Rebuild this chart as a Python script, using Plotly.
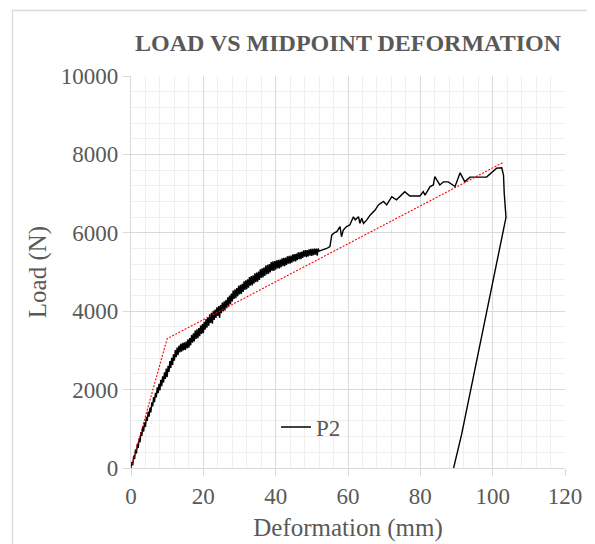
import plotly.graph_objects as go

# ---- data ----
# dense, noisy loading branch 0 - 52 mm (0.25 mm spacing)
deformation_dense = [
    0.0, 0.25, 0.5, 0.75, 1.0, 1.25, 1.5, 1.75, 2.0, 2.25, 2.5, 2.75, 3.0, 3.25, 3.5, 3.75,
    4.0, 4.25, 4.5, 4.75, 5.0, 5.25, 5.5, 5.75, 6.0, 6.25, 6.5, 6.75, 7.0, 7.25, 7.5, 7.75,
    8.0, 8.25, 8.5, 8.75, 9.0, 9.25, 9.5, 9.75, 10.0, 10.25, 10.5, 10.75, 11.0, 11.25, 11.5, 11.75,
    12.0, 12.25, 12.5, 12.75, 13.0, 13.25, 13.5, 13.75, 14.0, 14.25, 14.5, 14.75, 15.0, 15.25, 15.5, 15.75,
    16.0, 16.25, 16.5, 16.75, 17.0, 17.25, 17.5, 17.75, 18.0, 18.25, 18.5, 18.75, 19.0, 19.25, 19.5, 19.75,
    20.0, 20.25, 20.5, 20.75, 21.0, 21.25, 21.5, 21.75, 22.0, 22.25, 22.5, 22.75, 23.0, 23.25, 23.5, 23.75,
    24.0, 24.25, 24.5, 24.75, 25.0, 25.25, 25.5, 25.75, 26.0, 26.25, 26.5, 26.75, 27.0, 27.25, 27.5, 27.75,
    28.0, 28.25, 28.5, 28.75, 29.0, 29.25, 29.5, 29.75, 30.0, 30.25, 30.5, 30.75, 31.0, 31.25, 31.5, 31.75,
    32.0, 32.25, 32.5, 32.75, 33.0, 33.25, 33.5, 33.75, 34.0, 34.25, 34.5, 34.75, 35.0, 35.25, 35.5, 35.75,
    36.0, 36.25, 36.5, 36.75, 37.0, 37.25, 37.5, 37.75, 38.0, 38.25, 38.5, 38.75, 39.0, 39.25, 39.5, 39.75,
    40.0, 40.25, 40.5, 40.75, 41.0, 41.25, 41.5, 41.75, 42.0, 42.25, 42.5, 42.75, 43.0, 43.25, 43.5, 43.75,
    44.0, 44.25, 44.5, 44.75, 45.0, 45.25, 45.5, 45.75, 46.0, 46.25, 46.5, 46.75, 47.0, 47.25, 47.5, 47.75,
    48.0, 48.25, 48.5, 48.75, 49.0, 49.25, 49.5, 49.75, 50.0, 50.25, 50.5, 50.75, 51.0, 51.25, 51.5, 51.75,
    52.0,
]
load_dense = [
    0, 155, 70, 315, 230, 475, 370, 615, 510, 760, 660, 920, 820, 1060, 930, 1165,
    1050, 1305, 1200, 1440, 1310, 1540, 1420, 1675, 1570, 1810, 1680, 1915, 1800, 2060, 1910, 2150,
    1980, 2250, 2090, 2340, 2180, 2440, 2270, 2535, 2320, 2605, 2450, 2725, 2550, 2810, 2630, 2900,
    2740, 3010, 2830, 3075, 2880, 3120, 2950, 3165, 2970, 3190, 3000, 3205, 3010, 3225, 3050, 3280,
    3070, 3315, 3130, 3390, 3200, 3435, 3230, 3505, 3290, 3540, 3310, 3570, 3360, 3635, 3420, 3675,
    3440, 3730, 3530, 3800, 3580, 3845, 3630, 3920, 3700, 3960, 3680, 4010, 3780, 4040, 3830, 4100,
    3880, 4130, 3830, 4160, 3950, 4220, 4000, 4250, 4020, 4285, 4080, 4355, 4140, 4400, 4180, 4450,
    4250, 4525, 4310, 4560, 4330, 4590, 4380, 4650, 4430, 4675, 4440, 4700, 4490, 4760, 4540, 4790,
    4560, 4815, 4600, 4870, 4650, 4895, 4660, 4915, 4700, 4965, 4740, 4985, 4750, 5010, 4800, 5070,
    4850, 5095, 4860, 5115, 4900, 5165, 4940, 5185, 4950, 5205, 4990, 5255, 5030, 5270, 5030, 5280,
    5060, 5300, 5090, 5310, 5090, 5320, 5120, 5350, 5150, 5360, 5150, 5370, 5180, 5400, 5210, 5410,
    5210, 5420, 5240, 5450, 5270, 5460, 5270, 5470, 5300, 5500, 5330, 5510, 5330, 5520, 5360, 5550,
    5390, 5560, 5380, 5560, 5400, 5580, 5420, 5590, 5410, 5590, 5430, 5600, 5440, 5600, 5420, 5600,
    5530,
]
# smoother loading branch, peak and unloading branch
deformation_tail = [
    53.0, 54.1, 55.0, 55.5, 56.2, 56.9, 57.8, 58.2, 58.7, 59.6, 60.5, 61.5, 62.0,
    62.9, 63.3, 63.8, 64.3, 65.2, 66.1, 67.5, 68.4, 69.8, 70.7, 72.1, 73.4, 75.7,
    77.1, 79.9, 80.8, 81.3, 82.7, 83.6, 84.0, 85.4, 86.4, 87.7, 89.6, 91.0, 92.3,
    93.7, 98.3, 101.1, 102.5, 103.0, 103.2, 103.4, 103.6, 103.7, 103.6, 103.7,
    91.4, 89.2,
]
load_tail = [
    5560, 5600, 5650, 5940, 6000, 6030, 6160, 5900, 6070, 6160, 6200, 6410, 6330,
    6410, 6240, 6370, 6240, 6330, 6450, 6580, 6710, 6800, 6710, 6920, 6840, 7050,
    6940, 6940, 7050, 6960, 7180, 7220, 7430, 7220, 7300, 7300, 7180, 7530, 7300,
    7420, 7420, 7650, 7660, 7470, 7000, 6700, 6450, 6380, 6550, 6400,
    850, 0,
]

trend_x = [0, 10, 103]
trend_y = [0, 3300, 7800]

x_ticks = [0, 20, 40, 60, 80, 100, 120]
y_ticks = [0, 2000, 4000, 6000, 8000, 10000]
y_tick_text = ["0", "2000", "4000", "6000", "8000", "10000"]

deformation_mm = deformation_dense + deformation_tail
load_n = load_dense + load_tail

# ---- figure ----
W, H = 595, 544
OFF = 8  # the page body adds an 8 px offset; positions below are screen pixels
PLOT_L, PLOT_R, PLOT_T, PLOT_B = 131, 565, 76, 468
ML = PLOT_L - OFF
MT = PLOT_T - OFF
PW, PH = PLOT_R - PLOT_L, PLOT_B - PLOT_T
MR = W - ML - PW
MB = H - MT - PH

FONT = "Liberation Serif, Times New Roman, serif"
TXT = "#595959"
MAJ = "#d9d9d9"
MIN = "#efefef"

fig = go.Figure()
fig.add_trace(go.Scatter(
    x=deformation_mm, y=load_n, mode="lines", name="P2",
    line=dict(color="black", width=1.4), showlegend=True,
))
fig.add_trace(go.Scatter(
    x=trend_x, y=trend_y, mode="lines", name="Trend",
    line=dict(color="#ff0000", width=1.1, dash="2px,1.5px"), showlegend=False,
))


def px_to_paper_x(px):
    return (px - PLOT_L) / PW


def px_to_paper_y(py):
    return (PLOT_B - py) / PH


# outer chart border (left and top visible, rest cropped)
fig.add_shape(
    type="rect", xref="paper", yref="paper",
    x0=px_to_paper_x(12.5), x1=px_to_paper_x(640),
    y0=px_to_paper_y(600), y1=px_to_paper_y(10.5),
    line=dict(color=MAJ, width=1.3), fillcolor="rgba(0,0,0,0)", layer="above",
)

axis_common = dict(
    showline=True, linecolor=MAJ, linewidth=1.3,
    showgrid=True, gridcolor=MAJ, gridwidth=1.3,
    ticks="outside", ticklen=7, tickcolor=MAJ, tickwidth=1.3,
    tickfont=dict(family=FONT, size=23, color=TXT),
    zeroline=False, automargin=False,
)

fig.update_layout(
    width=W, height=H,
    margin=dict(l=ML, r=MR, t=MT, b=MB, autoexpand=False),
    paper_bgcolor="white", plot_bgcolor="white",
    title=dict(
        text="<b>LOAD VS MIDPOINT DEFORMATION</b>",
        font=dict(family=FONT, size=24, color=TXT),
        x=0.5, xref="paper", xanchor="center",
        y=1 - (43 - OFF) / H, yref="container", yanchor="middle",
        automargin=False,
    ),
    xaxis=dict(
        range=[0, 120], tickvals=x_ticks,
        minor=dict(dtick=4, showgrid=True, gridcolor=MIN, gridwidth=1.3, ticks=""),
        title=dict(text="Deformation (mm)", font=dict(family=FONT, size=25, color=TXT), standoff=10),
        **axis_common,
    ),
    yaxis=dict(
        range=[0, 10000], tickvals=y_ticks, ticktext=y_tick_text,
        minor=dict(dtick=400, showgrid=True, gridcolor=MIN, gridwidth=1.3, ticks=""),
        title=dict(text="Load (N)", font=dict(family=FONT, size=25, color=TXT), standoff=7),
        **axis_common,
    ),
    legend=dict(
        x=px_to_paper_x(276), y=px_to_paper_y(427),
        xanchor="left", yanchor="middle",
        bgcolor="rgba(0,0,0,0)",
        font=dict(family=FONT, size=23, color=TXT),
    ),
    showlegend=True,
)

fig.write_html("out.html")
